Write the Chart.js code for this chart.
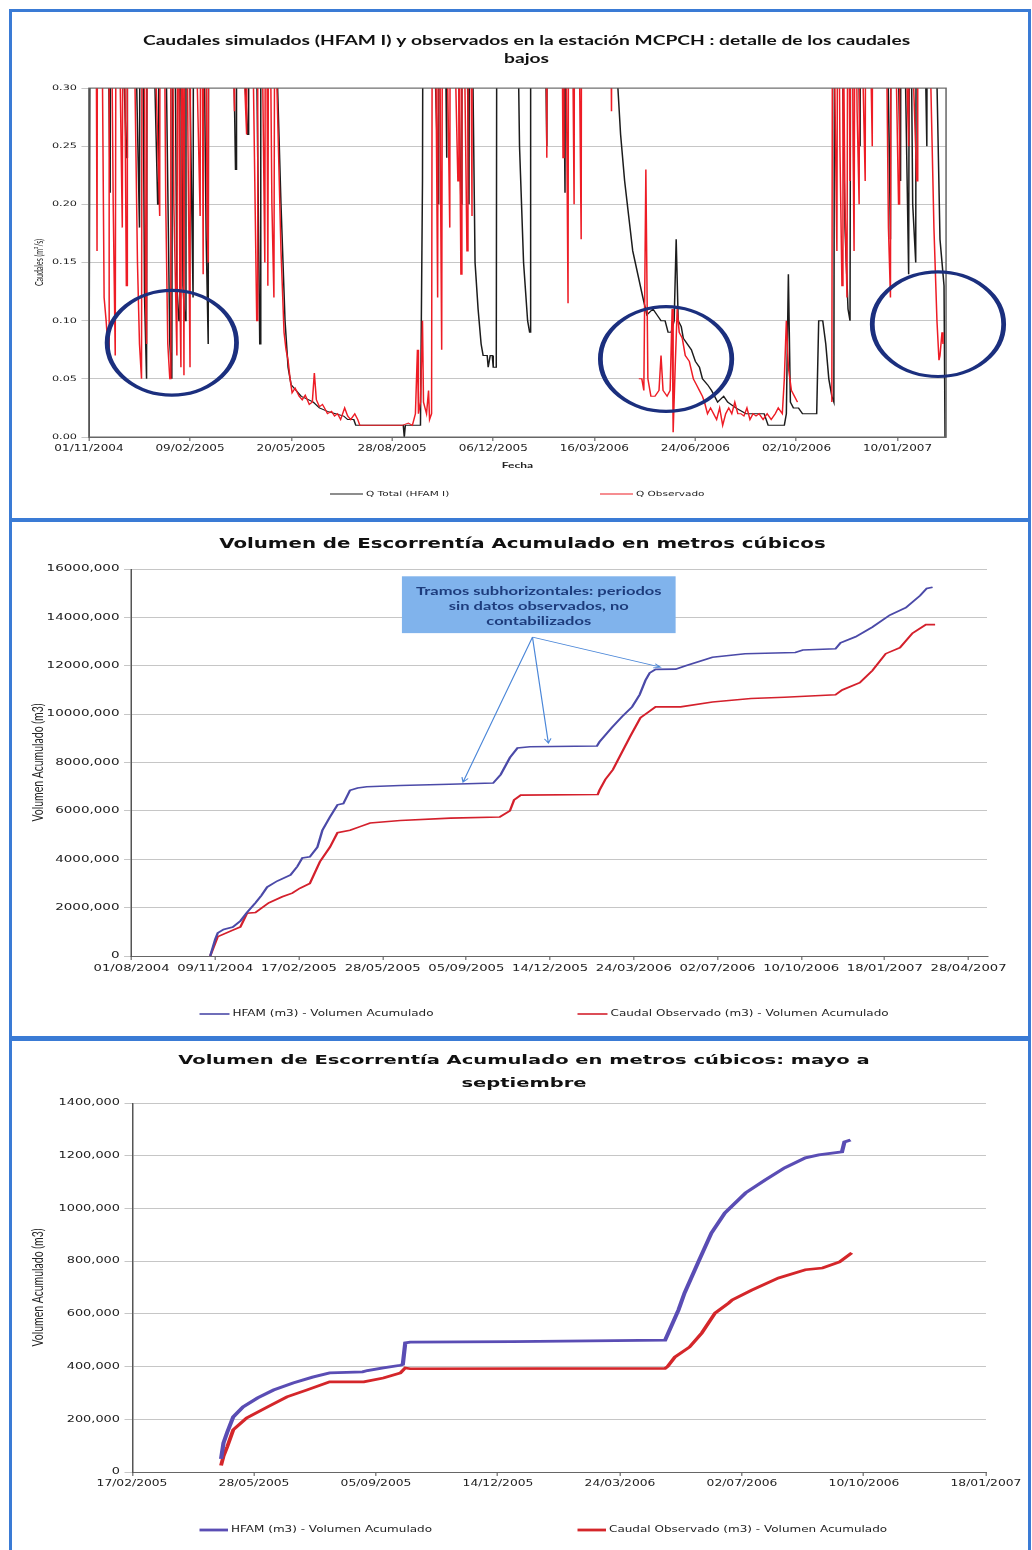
<!DOCTYPE html>
<html>
<head>
<meta charset="utf-8">
<script src="https://cdn.jsdelivr.net/npm/chart.js@4.4.1/dist/chart.umd.min.js"></script>
<style>
    html, body { margin: 0; padding: 0; background: #fff; }
    #page { position: relative; width: 1032px; height: 1550px; overflow: hidden; background: #fff; }
    #page canvas { position: absolute; left: 0; }
    .panel { position: absolute; border: 3px solid #3a7bd5; box-sizing: border-box; pointer-events: none; }
</style>
</head>
<body>
<div id="page">
    <canvas id="flowChart" width="688" height="520" style="top:0;width:1032px;height:520px"></canvas>
    <canvas id="volChart" width="688" height="518" style="top:520px;width:1032px;height:518px"></canvas>
    <canvas id="summerChart" width="688" height="512" style="top:1038px;width:1032px;height:512px"></canvas>
    <div class="panel" style="left:9px;top:9px;width:1022px;height:512px"></div>
    <div class="panel" style="left:9px;top:519px;width:1022px;height:520px"></div>
    <div class="panel" style="left:9px;top:1038px;width:1022px;height:530px"></div>
</div>
<script>
// ---- data ----------------------------------------------------------------

// Caudales: x = days since 01/11/2004, y = m3/s (values above 0.30 are clipped)
const flowStart = Date.UTC(2004, 10, 1);
const flowTicks = [0, 100, 200, 300, 400, 500, 600, 700, 800];
const flowYTicks = [0, 0.05, 0.10, 0.15, 0.20, 0.25, 0.30];
const qTotal = [
    [0, 0], [1, 0], [2, 0.7], [12, 0.9], [19, 0.35], [21, 0.21], [22, 0.8], [30, 0.5], [35, 0.3], [37, 0.24],
    [38, 0.9], [45, 0.4], [50, 0.18], [51, 0.7], [55, 0.12], [57, 0.05], [58, 0.8], [64, 0.35], [68, 0.2],
    [69, 0.9], [76, 0.35], [80, 0.08], [82, 0.05], [83, 0.6], [87, 0.13], [89, 0.10], [90, 0.5], [93, 0.13],
    [95, 0.10], [96, 0.7], [100, 0.3], [103, 0.12], [104, 0.8], [112, 0.5], [116, 0.17], [118, 0.08],
    [119, 0.9], [142, 0.4], [145, 0.23], [146, 0.6], [152, 0.35], [157, 0.26], [158, 0.7], [165, 0.4],
    [169, 0.08], [170, 0.8], [180, 0.5], [185, 0.35], [190, 0.20], [194, 0.10], [197, 0.06], [200, 0.045],
    [205, 0.04], [210, 0.035], [215, 0.033], [222, 0.03], [228, 0.025], [236, 0.022], [244, 0.02],
    [252, 0.018], [256, 0.015], [262, 0.015], [264, 0.01], [311, 0.01], [312, 0.0], [313, 0.01], [328, 0.01],
    [330, 0.22], [331, 0.6], [340, 0.4], [346, 0.2], [347, 0.7], [352, 0.4], [354, 0.24], [355, 0.8],
    [364, 0.4], [368, 0.2], [369, 0.7], [374, 0.35], [376, 0.2], [377, 0.6], [380, 0.3], [382, 0.15],
    [385, 0.11], [388, 0.08], [390, 0.07], [394, 0.07], [395, 0.06], [397, 0.07], [399, 0.07], [400, 0.06],
    [403, 0.06], [404, 0.7], [422, 0.5], [426, 0.25], [430, 0.15], [434, 0.10], [436, 0.09], [437, 0.8],
    [450, 0.45], [453, 0.25], [454, 0.8], [468, 0.5], [471, 0.21], [472, 0.8], [485, 0.5], [488, 0.35],
    [489, 0.9], [518, 0.45], [522, 0.32], [526, 0.26], [530, 0.22], [534, 0.19], [538, 0.16], [543, 0.14],
    [548, 0.12], [552, 0.105], [558, 0.11], [562, 0.105], [566, 0.10], [570, 0.10], [573, 0.09], [576, 0.09],
    [579, 0.10], [581, 0.17], [583, 0.10], [586, 0.095], [588, 0.085], [592, 0.08], [596, 0.075],
    [600, 0.065], [604, 0.06], [607, 0.05], [612, 0.045], [616, 0.04], [619, 0.035], [622, 0.03],
    [628, 0.035], [632, 0.03], [640, 0.025], [650, 0.02], [660, 0.02], [668, 0.02], [672, 0.01], [688, 0.01],
    [690, 0.02], [692, 0.14], [694, 0.03], [697, 0.025], [702, 0.025], [706, 0.02], [720, 0.02], [722, 0.10],
    [726, 0.10], [729, 0.08], [732, 0.05], [735, 0.035], [737, 0.03], [738, 0.6], [745, 0.35], [748, 0.18],
    [751, 0.11], [753, 0.10], [754, 0.6], [760, 0.4], [763, 0.25], [764, 0.7], [775, 0.5], [780, 0.32],
    [781, 0.8], [790, 0.35], [793, 0.17], [794, 0.7], [800, 0.35], [803, 0.22], [804, 0.8], [808, 0.3],
    [811, 0.14], [812, 0.5], [815, 0.2], [818, 0.15], [819, 0.7], [826, 0.4], [829, 0.25], [830, 0.7],
    [838, 0.35], [842, 0.17], [845, 0.14], [846, 0.13], [847, 0]
];
const qObserved = [
    [3, 0.6], [7, 0.4], [8, 0.16], [9, 0.7], [13, 0.35], [15, 0.12], [17, 0.10], [19, 0.075], [20, 0.6],
    [24, 0.2], [26, 0.07], [27, 0.5], [31, 0.3], [33, 0.18], [34, 0.6], [36, 0.25], [37, 0.13], [38, 0.7],
    [44, 0.4], [48, 0.15], [50, 0.08], [52, 0.05], [53, 0.7], [56, 0.12], [57, 0.08], [58, 0.6], [65, 0.35],
    [70, 0.19], [71, 0.8], [76, 0.2], [78, 0.08], [80, 0.05], [81, 0.6], [84, 0.2], [87, 0.07], [88, 0.5],
    [90, 0.12], [91, 0.06], [92, 0.5], [94, 0.053], [95, 0.6], [98, 0.25], [100, 0.06], [101, 0.7],
    [106, 0.35], [110, 0.19], [111, 0.6], [113, 0.14], [114, 0.6], [117, 0.18], [118, 0.15], [119, 0.8],
    [140, 0.45], [144, 0.28], [145, 0.6], [152, 0.35], [156, 0.26], [157, 0.7], [162, 0.35], [166, 0.10],
    [167, 0.6], [172, 0.3], [174, 0.15], [175, 0.6], [177, 0.13], [178, 0.5], [181, 0.2], [183, 0.12],
    [184, 0.45], [186, 0.3], [190, 0.16], [193, 0.09], [195, 0.075], [197, 0.066], [199, 0.05], [201, 0.038],
    [204, 0.042], [208, 0.035], [211, 0.032], [214, 0.036], [218, 0.028], [221, 0.03], [223, 0.055],
    [225, 0.032], [228, 0.026], [231, 0.028], [233, 0.025], [236, 0.02], [240, 0.022], [243, 0.018],
    [246, 0.02], [249, 0.015], [253, 0.025], [256, 0.018], [259, 0.015], [263, 0.02], [266, 0.015],
    [268, 0.01], [310, 0.01], [316, 0.012], [320, 0.01], [323, 0.02], [325, 0.075], [326, 0.02], [328, 0.03],
    [330, 0.1], [331, 0.03], [334, 0.02], [336, 0.04], [337, 0.015], [339, 0.02], [340, 0.6], [343, 0.35],
    [345, 0.12], [346, 0.6], [348, 0.2], [349, 0.075], [350, 0.5], [355, 0.3], [357, 0.18], [358, 0.7],
    [363, 0.3], [365, 0.22], [366, 0.7], [367, 0.25], [368, 0.14], [369, 0.6], [372, 0.3], [374, 0.16],
    [375, 0.7], [378, 0.35], [379, 0.19], [380, null],
    [449, null], [450, 0.6], [452, 0.4], [453, 0.24], [454, 0.7], [467, 0.5], [469, 0.24], [470, 0.7],
    [472, 0.35], [474, 0.115], [475, 0.7], [478, 0.4], [480, 0.2], [481, 0.7], [485, 0.35], [487, 0.17],
    [488, 0.8], [515, 0.5], [517, 0.28], [518, 0.6], [521, 0.6], [522, null],
    [543, null], [544, 0.05], [547, 0.05], [549, 0.04], [551, 0.23], [553, 0.05], [556, 0.035], [560, 0.035],
    [564, 0.04], [566, 0.07], [568, 0.04], [572, 0.035], [575, 0.04], [577, 0.11], [578, 0.004], [580, 0.06],
    [582, 0.11], [584, 0.09], [587, 0.085], [590, 0.07], [594, 0.065], [598, 0.05], [601, 0.045], [604, 0.04],
    [607, 0.035], [609, 0.03], [612, 0.02], [615, 0.025], [618, 0.02], [621, 0.015], [624, 0.025],
    [627, 0.01], [630, 0.02], [633, 0.025], [636, 0.02], [639, 0.03], [642, 0.02], [645, 0.02], [648, 0.018],
    [651, 0.025], [654, 0.015], [657, 0.02], [660, 0.018], [663, 0.02], [667, 0.015], [671, 0.02],
    [675, 0.015], [679, 0.02], [682, 0.025], [686, 0.02], [688, 0.05], [690, 0.10], [692, 0.06], [695, 0.04],
    [698, 0.035], [701, 0.03], [702, null],
    [734, null], [735, 0.03], [736, 0.6], [738, 0.3], [740, 0.16], [741, 0.5], [743, 0.25], [745, 0.13],
    [746, 0.4], [748, 0.2], [750, 0.12], [751, 0.5], [753, 0.22], [754, 0.6], [756, 0.25], [757, 0.16],
    [758, 0.45], [760, 0.28], [762, 0.2], [763, 0.5], [766, 0.3], [768, 0.22], [769, 0.6], [773, 0.35],
    [775, 0.25], [776, 0.7], [781, 0.4], [783, 0.3], [784, 0.7], [789, 0.35], [791, 0.18], [793, 0.12],
    [794, 0.6], [798, 0.35], [801, 0.2], [802, 0.7], [808, 0.35], [811, 0.25], [812, 0.6], [816, 0.3],
    [819, 0.22], [820, 0.7], [828, 0.5], [833, 0.3], [836, 0.18], [839, 0.1], [841, 0.066], [842, 0.07],
    [844, 0.09], [845, 0.08]
];
// circled low-flow zones: [centre day, centre m3/s, half-width days, half-height m3/s]
const lowFlowRings = [[82, 0.081, 64, 0.045], [571, 0.067, 65, 0.045], [840, 0.097, 65, 0.045]];

// Volumen acumulado: x = days since 01/08/2004, y = m3
const volStart = Date.UTC(2004, 7, 1);
const volTicks = [0, 100, 200, 300, 400, 500, 600, 700, 800, 900, 1000];
const volHfam = [
    [94, 0], [100, 700000], [103, 950000], [110, 1100000], [121, 1200000], [130, 1450000], [138, 1800000],
    [148, 2200000], [155, 2500000], [162, 2850000], [174, 3100000], [190, 3350000], [198, 3700000],
    [204, 4050000], [213, 4100000], [222, 4500000], [228, 5200000], [237, 5750000], [246, 6250000],
    [253, 6300000], [261, 6850000], [270, 6950000], [281, 7000000], [321, 7050000], [380, 7100000],
    [432, 7150000], [441, 7500000], [452, 8200000], [461, 8600000], [476, 8650000], [556, 8680000],
    [559, 8850000], [574, 9450000], [586, 9900000], [598, 10300000], [607, 10800000], [614, 11400000],
    [619, 11700000], [626, 11850000], [650, 11860000], [662, 12000000], [694, 12350000], [733, 12500000],
    [793, 12550000], [802, 12650000], [841, 12700000], [847, 12950000], [865, 13200000], [885, 13600000],
    [906, 14100000], [925, 14400000], [942, 14900000], [950, 15200000], [957, 15250000]
];
const volObserved = [
    [94, 0], [103, 800000], [121, 1070000], [130, 1200000], [138, 1770000], [148, 1800000], [164, 2200000],
    [180, 2450000], [192, 2600000], [201, 2800000], [213, 3000000], [225, 3900000], [237, 4500000],
    [246, 5100000], [261, 5200000], [273, 5350000], [285, 5500000], [321, 5600000], [381, 5700000],
    [440, 5750000], [452, 6000000], [457, 6450000], [465, 6650000], [557, 6680000], [559, 6850000],
    [566, 7300000], [575, 7700000], [584, 8300000], [596, 9100000], [608, 9850000], [618, 10100000],
    [626, 10300000], [656, 10300000], [694, 10500000], [740, 10650000], [780, 10700000], [841, 10800000],
    [849, 11000000], [870, 11300000], [885, 11800000], [901, 12500000], [918, 12750000], [933, 13350000],
    [949, 13700000], [960, 13700000]
];
const noteLines = ['Tramos subhorizontales: periodos', 'sin datos observados, no', 'contabilizados'];
// note box corners and arrow targets, in [day, m3]
const noteBox = [[323, 15700000], [650, 13350000]];
const noteFrom = [479, 13180000];
const noteTargets = [[396, 7190000], [498, 8800000], [632, 11940000]];

// Mayo a septiembre: x = days since 17/02/2005, y = m3
const summerStart = Date.UTC(2005, 1, 17);
const summerTicks = [0, 100, 200, 300, 400, 500, 600, 700];
const summerHfam = [
    [73, 50000], [75, 110000], [78, 150000], [83, 209000], [91, 247000], [103, 281000], [116, 311000],
    [132, 338000], [148, 360000], [162, 376000], [176, 378000], [189, 380000], [193, 385000], [206, 395000],
    [220, 405000], [222, 408000], [224, 490000], [228, 493000], [312, 495000], [437, 500000], [448, 615000],
    [453, 680000], [465, 805000], [475, 907000], [486, 983000], [503, 1059000], [519, 1108000],
    [535, 1154000], [552, 1192000], [563, 1203000], [582, 1215000], [584, 1252000], [589, 1260000]
];
const summerObserved = [
    [73, 25000], [75, 60000], [78, 95000], [83, 160000], [94, 205000], [111, 247000], [127, 285000],
    [143, 311000], [162, 342000], [190, 342000], [206, 357000], [220, 376000], [224, 395000], [228, 392000],
    [437, 393000], [439, 400000], [445, 436000], [457, 474000], [467, 527000], [478, 603000], [489, 641000],
    [492, 653000], [508, 690000], [530, 736000], [552, 767000], [566, 774000], [580, 797000], [590, 831000]
];

// ---- helpers ---------------------------------------------------------------

const STRETCH = 1.5;   // the scanned original is wider than tall

function fmtDate(start, d) {
    const t = new Date(start + d * 86400000);
    const dd = String(t.getUTCDate()).padStart(2, '0');
    const mm = String(t.getUTCMonth() + 1).padStart(2, '0');
    return dd + '/' + mm + '/' + t.getUTCFullYear();
}

function fmtVolume(v) {
    return v === 0 ? '0' : Math.round(v / 1000) + ',000';
}

function points(arr) {
    return arr.map(p => ({ x: p[0], y: p[1] }));
}

function dateAxis(start, ticks, max, height, size, title) {
    return {
        type: 'linear',
        min: 0,
        max: max,
        afterBuildTicks: s => { s.ticks = ticks.map(v => ({ value: v })); },
        afterFit: s => { s.height = height; },
        grid: { drawOnChartArea: false, tickLength: 4, color: '#888' },
        border: { color: '#666' },
        ticks: {
            autoSkip: false, maxRotation: 0, padding: 3, color: '#222',
            font: { family: 'DejaVu Sans', size: size },
            callback: v => fmtDate(start, v)
        },
        title: title ? {
            display: true, text: title, color: '#222',
            font: { family: 'Lato', weight: 'bold', size: 8 }, padding: { top: 2, bottom: 4 }
        } : { display: false }
    };
}

function valueAxis(max, step, width, fmt, size, title, titleSize) {
    return {
        min: 0,
        max: max,
        afterFit: s => { s.width = width; },
        grid: { color: '#c6c6c6', tickLength: 5 },
        border: { color: '#555' },
        ticks: { stepSize: step, padding: 3, color: '#222', font: { family: 'DejaVu Sans', size: size }, callback: fmt },
        title: {
            display: true, text: title, color: '#222',
            font: { family: 'Lato', size: titleSize }, padding: { top: 4, bottom: 0 }
        }
    };
}

// empty right-hand box, only there so the title centres where the original does
function spacer(width) {
    return {
        position: 'right',
        afterFit: s => { s.width = width; },
        ticks: { display: false },
        grid: { display: false },
        border: { display: false }
    };
}

function lineLegend(y, xs, len, width, size) {
    return {
        id: 'lineLegend',
        afterDraw(chart) {
            const ctx = chart.ctx;
            ctx.save();
            ctx.font = size + 'px "DejaVu Sans"';
            ctx.textBaseline = 'middle';
            ctx.fillStyle = '#222';
            chart.data.datasets.forEach((ds, i) => {
                ctx.strokeStyle = ds.borderColor;
                ctx.lineWidth = width;
                ctx.beginPath();
                ctx.moveTo(xs[i], y);
                ctx.lineTo(xs[i] + len, y);
                ctx.stroke();
                ctx.fillText(ds.label, xs[i] + len + 2, y);
            });
            ctx.restore();
        }
    };
}

// redraw a finished chart onto a wider bitmap, widening only x
function stretch(chart) {
    chart.canvas.width = Math.round(chart.width * STRETCH);
    chart.ctx.setTransform(STRETCH, 0, 0, 1, 0, 0);
    chart.draw();
}

const baseOptions = {
    responsive: false,
    animation: false,
    events: [],
    devicePixelRatio: 1,
    plugins: { legend: { display: false }, tooltip: { enabled: false } },
    elements: { point: { radius: 0 }, line: { tension: 0 } }
};

// ---- chart 1: caudales --------------------------------------------------------
const flowChart = new Chart(document.getElementById('flowChart'), {
    type: 'line',
    data: {
        datasets: [
            { label: 'Q Total (HFAM I)', data: points(qTotal), borderColor: '#1c1c1c', borderWidth: 1, order: 2 },
            { label: 'Q Observado', data: points(qObserved), borderColor: '#ee1c25', borderWidth: 1, order: 1 }
        ]
    },
    options: {
        ...baseOptions,
        layout: { padding: { top: 32, left: 18.5, right: 4.5, bottom: 46 } },
        plugins: {
            ...baseOptions.plugins,
            title: {
                display: true,
                text: ['Caudales simulados (HFAM I) y observados en la estación MCPCH : detalle de los caudales', 'bajos'],
                color: '#111',
                font: { family: 'Lato', weight: 'bold', size: 12.8, lineHeight: 1.4 },
                padding: { top: 0, bottom: 20.2 }
            }
        },
        scales: {
            x: dateAxis(flowStart, flowTicks, 848, 37, 8, 'Fecha'),
            y: {
                ...valueAxis(0.30, 0.05, 40.8, v => v.toFixed(2), 7.5, 'Caudales (m³/s)', 7),
                afterBuildTicks: s => { s.ticks = flowYTicks.map(v => ({ value: v })); }
            },
            pad: spacer(52.8)
        }
    },
    plugins: [
        {
            id: 'plotFrame',
            afterDatasetsDraw(chart) {
                const a = chart.chartArea;
                chart.ctx.save();
                chart.ctx.strokeStyle = '#666';
                chart.ctx.lineWidth = 1;
                chart.ctx.strokeRect(a.left, a.top, a.right - a.left, a.bottom - a.top);
                chart.ctx.restore();
            }
        },
        {
            id: 'lowFlowRings',
            afterDraw(chart) {
                const x = chart.scales.x, y = chart.scales.y, ctx = chart.ctx;
                ctx.save();
                ctx.strokeStyle = '#1b2f7e';
                ctx.lineWidth = 3.2;
                lowFlowRings.forEach(r => {
                    const cx = x.getPixelForValue(r[0]), cy = y.getPixelForValue(r[1]);
                    const rx = x.getPixelForValue(r[0] + r[2]) - cx;
                    const ry = cy - y.getPixelForValue(r[1] + r[3]);
                    ctx.beginPath();
                    ctx.ellipse(cx, cy, rx, ry, 0, 0, Math.PI * 2);
                    ctx.stroke();
                });
                ctx.restore();
            }
        },
        lineLegend(494, [220, 400], 22, 1, 7)
    ]
});
stretch(flowChart);

// ---- chart 2: volumen acumulado ------------------------------------------------
const volChart = new Chart(document.getElementById('volChart'), {
    type: 'line',
    data: {
        datasets: [
            { label: 'HFAM (m3) - Volumen Acumulado', data: points(volHfam), borderColor: '#4b4aa8', borderWidth: 1.6 },
            { label: 'Caudal Observado (m3) - Volumen Acumulado', data: points(volObserved), borderColor: '#d4202c', borderWidth: 1.6 }
        ]
    },
    options: {
        ...baseOptions,
        layout: { padding: { top: 10, left: 15, right: 6.4, bottom: 52 } },
        plugins: {
            ...baseOptions.plugins,
            title: {
                display: true,
                text: 'Volumen de Escorrentía Acumulado en metros cúbicos',
                color: '#111',
                font: { family: 'DejaVu Sans', weight: 'bold', size: 13.2, lineHeight: 1.2 },
                padding: { top: 7, bottom: 16.2 }
            }
        },
        scales: {
            x: dateAxis(volStart, volTicks, 1022, 30, 8.8),
            y: valueAxis(16000000, 2000000, 72.7, fmtVolume, 9, 'Volumen Acumulado (m3)', 10.5),
            pad: spacer(23.6)
        }
    },
    plugins: [
        {
            id: 'note',
            afterDraw(chart) {
                const x = chart.scales.x, y = chart.scales.y, ctx = chart.ctx;
                const px = p => [x.getPixelForValue(p[0]), y.getPixelForValue(p[1])];
                const [l, t] = px(noteBox[0]);
                const [r, b] = px(noteBox[1]);
                const [fx, fy] = px(noteFrom);
                ctx.save();
                ctx.strokeStyle = '#4a86d8';
                ctx.lineWidth = 0.8;
                noteTargets.forEach(p => {
                    const [tx, ty] = px(p);
                    const ang = Math.atan2(ty - fy, tx - fx);
                    ctx.beginPath();
                    ctx.moveTo(fx, fy);
                    ctx.lineTo(tx, ty);
                    ctx.moveTo(tx - 5 * Math.cos(ang - 0.45), ty - 5 * Math.sin(ang - 0.45));
                    ctx.lineTo(tx, ty);
                    ctx.lineTo(tx - 5 * Math.cos(ang + 0.45), ty - 5 * Math.sin(ang + 0.45));
                    ctx.stroke();
                });
                ctx.fillStyle = '#80b3ec';
                ctx.fillRect(l, t, r - l, b - t);
                ctx.fillStyle = '#1d3c7c';
                ctx.font = 'bold 11px Lato';
                ctx.textAlign = 'center';
                ctx.textBaseline = 'middle';
                noteLines.forEach((s, i) => ctx.fillText(s, (l + r) / 2, t + 15 + i * 15));
                ctx.restore();
            }
        },
        lineLegend(494, [133, 385], 20, 1.6, 8)
    ]
});
stretch(volChart);

// ---- chart 3: mayo a septiembre ----------------------------------------------
const summerChart = new Chart(document.getElementById('summerChart'), {
    type: 'line',
    data: {
        datasets: [
            { label: 'HFAM (m3) - Volumen Acumulado', data: points(summerHfam), borderColor: '#5a4db4', borderWidth: 2.8 },
            { label: 'Caudal Observado (m3) - Volumen Acumulado', data: points(summerObserved), borderColor: '#d4262a', borderWidth: 2.6 }
        ]
    },
    options: {
        ...baseOptions,
        layout: { padding: { top: 5, left: 15, right: 4.4, bottom: 48 } },
        plugins: {
            ...baseOptions.plugins,
            title: {
                display: true,
                text: ['Volumen de Escorrentía Acumulado en metros cúbicos: mayo a', 'septiembre'],
                color: '#111',
                font: { family: 'DejaVu Sans', weight: 'bold', size: 13, lineHeight: 1.7 },
                padding: { top: 7, bottom: 8.8 }
            }
        },
        scales: {
            x: dateAxis(summerStart, summerTicks, 700, 30, 8.2),
            y: valueAxis(1400000, 200000, 73, fmtVolume, 8.6, 'Volumen Acumulado (m3)', 10.5),
            pad: spacer(26.3)
        }
    },
    plugins: [lineLegend(492, [133, 385], 19, 2.8, 8)]
});
stretch(summerChart);
</script>
</body>
</html>
